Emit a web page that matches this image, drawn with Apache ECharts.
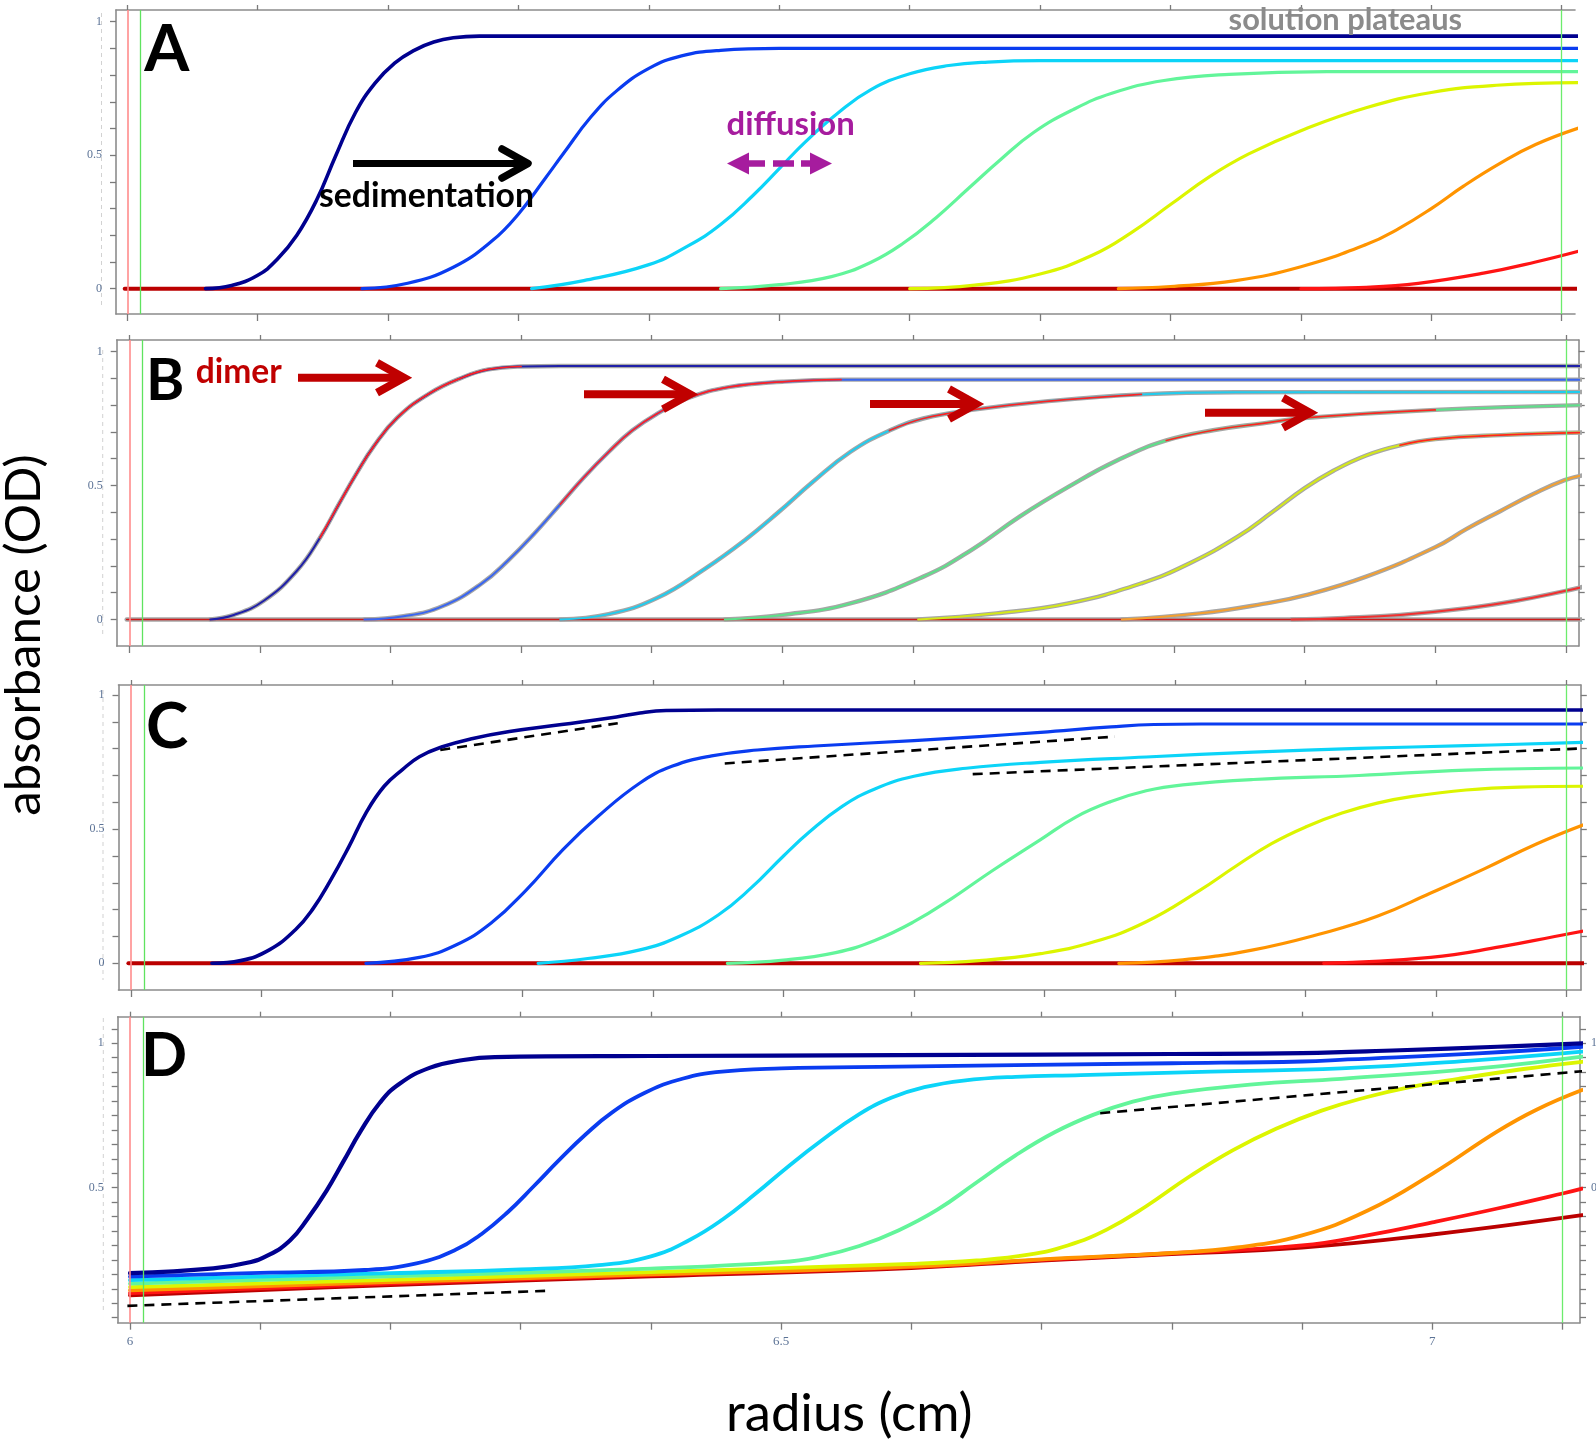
<!DOCTYPE html>
<html><head><meta charset="utf-8">
<script src="https://cdn.jsdelivr.net/npm/echarts@6/dist/echarts.min.js"></script>
<style>html,body{margin:0;padding:0;background:#fff}#c{width:1596px;height:1440px}</style>
</head><body><div id="c"></div>
<script>
// ---------- tick values ----------
const XT = [6.0,6.1,6.2,6.3,6.4,6.5,6.6,6.7,6.8,6.9,7.0,7.1];
const XL = [6, 6.5, 7];
const YT = [0,0.1,0.2,0.3,0.4,0.5,0.6,0.7,0.8,0.9,1.0];
const YTD = [0.05,0.1,0.15,0.2,0.25,0.3,0.35,0.4,0.45,0.5,0.55,0.6,0.65,0.7,0.75,0.8,0.85,0.9,0.95,1.0,1.05];
const YL = [0, 0.5, 1];
const YLD = [0.5, 1];
const VLINES = [6.0, 6.0092, 7.101];

// ---------- panel A ----------
const A_navy = [[6.06,0],[6.08,0.012],[6.10,0.05],[6.115,0.11],[6.13,0.2],[6.145,0.33],[6.16,0.5],[6.175,0.66],[6.19,0.77],[6.205,0.845],[6.22,0.893],[6.235,0.924],[6.25,0.94],[6.27,0.946],[7.115,0.946]];
const A_blue = [[6.18,0],[6.215,0.02],[6.25,0.08],[6.28,0.18],[6.30,0.28],[6.32,0.41],[6.335,0.51],[6.355,0.64],[6.375,0.74],[6.40,0.825],[6.425,0.872],[6.455,0.893],[6.50,0.9],[7.115,0.9]];
const A_cyan = [[6.31,0],[6.35,0.03],[6.40,0.09],[6.43,0.16],[6.455,0.24],[6.48,0.35],[6.50,0.45],[6.52,0.55],[6.545,0.658],[6.57,0.745],[6.60,0.805],[6.63,0.836],[6.66,0.849],[6.70,0.854],[7.115,0.854]];
const A_green = [[6.455,0],[6.50,0.015],[6.54,0.045],[6.57,0.098],[6.595,0.17],[6.62,0.265],[6.645,0.375],[6.67,0.485],[6.695,0.585],[6.725,0.67],[6.755,0.732],[6.795,0.78],[6.845,0.803],[6.92,0.813],[7.115,0.813]];
const A_yellow = [[6.60,0],[6.65,0.013],[6.70,0.055],[6.74,0.125],[6.77,0.21],[6.80,0.315],[6.83,0.42],[6.86,0.505],[6.90,0.592],[6.95,0.678],[7.0,0.735],[7.05,0.762],[7.115,0.772]];
const A_orange = [[6.76,0],[6.80,0.008],[6.85,0.03],[6.90,0.082],[6.95,0.165],[6.975,0.225],[7.0,0.30],[7.025,0.385],[7.053,0.47],[7.08,0.54],[7.115,0.605]];
const A_red = [[6.90,0],[6.95,0.005],[6.99,0.02],[7.04,0.058],[7.08,0.1],[7.115,0.143]];
const A_darkred = [[5.998,0],[7.115,0]];

// ---------- panel B ----------
const B_navy = [[6.062,0],[6.08,0.017],[6.103,0.07],[6.128,0.18],[6.146,0.305],[6.161,0.435],[6.174,0.545],[6.187,0.645],[6.205,0.752],[6.23,0.844],[6.256,0.905],[6.275,0.933],[6.30,0.944],[6.33,0.946],[7.115,0.946]];
const B_blue = [[6.18,0],[6.21,0.012],[6.24,0.05],[6.27,0.135],[6.29,0.22],[6.31,0.32],[6.33,0.43],[6.348,0.53],[6.367,0.625],[6.385,0.705],[6.405,0.77],[6.427,0.825],[6.46,0.868],[6.50,0.887],[6.545,0.895],[7.115,0.895]];
const B_cyan = [[6.33,0],[6.367,0.02],[6.404,0.08],[6.441,0.19],[6.471,0.295],[6.497,0.40],[6.523,0.512],[6.552,0.625],[6.582,0.705],[6.608,0.75],[6.645,0.782],[6.70,0.813],[6.775,0.84],[6.85,0.848],[7.115,0.849]];
const B_green = [[6.456,0],[6.50,0.017],[6.552,0.06],[6.608,0.16],[6.645,0.26],[6.682,0.385],[6.719,0.495],[6.757,0.595],[6.794,0.668],[6.831,0.707],[6.868,0.732],[6.90,0.752],[7.0,0.782],[7.115,0.80]];
const B_yellow = [[6.604,0],[6.664,0.023],[6.719,0.06],[6.775,0.135],[6.812,0.21],[6.849,0.31],[6.875,0.40],[6.90,0.49],[6.922,0.555],[6.947,0.612],[6.973,0.65],[7.0,0.673],[7.05,0.688],[7.115,0.698]];
const B_orange = [[6.76,0],[6.82,0.023],[6.868,0.058],[6.90,0.09],[6.947,0.16],[7.0,0.27],[7.024,0.338],[7.05,0.405],[7.075,0.468],[7.099,0.52],[7.115,0.54]];
const B_red = [[6.89,0],[6.93,0.006],[6.973,0.017],[7.024,0.042],[7.062,0.07],[7.099,0.106],[7.115,0.124]];
const B_darkred = [[5.998,0],[7.115,0]];
const B_dimerRanges = [[6.135,6.31],[6.33,6.55],[6.56,6.80],[6.78,7.06],[6.97,7.115]];

// ---------- panel C ----------
const C_navy = [[6.062,0],[6.084,0.01],[6.106,0.05],[6.126,0.125],[6.139,0.2],[6.153,0.31],[6.167,0.435],[6.18,0.56],[6.194,0.66],[6.208,0.722],[6.221,0.77],[6.238,0.806],[6.262,0.838],[6.29,0.864],[6.33,0.89],[6.372,0.918],[6.39,0.933],[6.41,0.942],[6.45,0.944],[7.115,0.944]];
const C_blue = [[6.18,0],[6.221,0.022],[6.249,0.068],[6.276,0.15],[6.303,0.274],[6.331,0.424],[6.358,0.548],[6.39,0.672],[6.415,0.735],[6.445,0.773],[6.48,0.795],[6.524,0.81],[6.60,0.83],[6.65,0.845],[6.697,0.861],[6.751,0.881],[6.784,0.89],[6.82,0.892],[7.115,0.892]];
const C_cyan = [[6.312,0],[6.35,0.018],[6.39,0.05],[6.42,0.1],[6.45,0.18],[6.475,0.28],[6.50,0.40],[6.52,0.49],[6.545,0.585],[6.57,0.65],[6.60,0.697],[6.64,0.727],[6.697,0.749],[6.778,0.769],[6.86,0.787],[6.941,0.801],[7.023,0.811],[7.115,0.824]];
const C_green = [[6.457,0],[6.50,0.012],[6.54,0.04],[6.57,0.085],[6.60,0.155],[6.63,0.245],[6.66,0.345],[6.697,0.461],[6.724,0.545],[6.751,0.603],[6.778,0.643],[6.806,0.665],[6.86,0.685],[6.941,0.70],[7.023,0.72],[7.115,0.728]];
const C_yellow = [[6.605,0],[6.65,0.01],[6.697,0.036],[6.738,0.08],[6.778,0.155],[6.819,0.272],[6.846,0.36],[6.874,0.446],[6.901,0.51],[6.928,0.56],[6.955,0.597],[6.982,0.622],[7.023,0.646],[7.064,0.657],[7.115,0.66]];
const C_orange = [[6.757,0],[6.806,0.013],[6.86,0.05],[6.914,0.113],[6.955,0.175],[6.996,0.262],[7.037,0.352],[7.077,0.445],[7.115,0.52]];
const C_red = [[6.914,0],[6.996,0.022],[7.05,0.062],[7.091,0.1],[7.115,0.122]];
const C_darkred = [[5.998,0],[7.115,0]];
const C_fit1 = [[6.237,0.795],[6.373,0.895]];
const C_fit2 = [[6.455,0.745],[6.754,0.845]];
const C_fit3 = [[6.645,0.705],[7.108,0.80]];

// ---------- panel D ----------
const D_navy = [[6.0,0.204],[6.064,0.221],[6.09,0.24],[6.107,0.268],[6.123,0.318],[6.136,0.39],[6.151,0.49],[6.164,0.592],[6.177,0.695],[6.192,0.795],[6.207,0.86],[6.23,0.915],[6.256,0.942],[6.28,0.952],[6.40,0.956],[6.59,0.959],[6.80,0.963],[6.90,0.966],[6.975,0.976],[7.05,0.988],[7.115,1.0]];
const D_blue = [[6.0,0.192],[6.1,0.205],[6.18,0.215],[6.22,0.238],[6.25,0.285],[6.27,0.34],[6.29,0.415],[6.31,0.505],[6.33,0.598],[6.35,0.685],[6.37,0.76],[6.395,0.828],[6.42,0.872],[6.45,0.9],[6.50,0.913],[6.59,0.919],[6.80,0.931],[6.90,0.937],[6.935,0.944],[7.035,0.965],[7.115,0.988]];
const D_cyan = [[6.0,0.18],[6.1,0.192],[6.2,0.204],[6.3,0.217],[6.36,0.232],[6.40,0.262],[6.43,0.32],[6.455,0.39],[6.48,0.478],[6.505,0.572],[6.53,0.66],[6.56,0.755],[6.585,0.812],[6.61,0.848],[6.64,0.871],[6.68,0.884],[6.73,0.89],[6.83,0.902],[6.93,0.913],[7.035,0.942],[7.115,0.971]];
const D_green = [[6.0,0.168],[6.2,0.193],[6.4,0.22],[6.5,0.242],[6.53,0.262],[6.56,0.298],[6.59,0.352],[6.62,0.424],[6.65,0.518],[6.68,0.612],[6.71,0.692],[6.74,0.753],[6.77,0.798],[6.80,0.826],[6.86,0.857],[6.93,0.877],[7.035,0.913],[7.115,0.954]];
const D_yellow = [[6.0,0.156],[6.2,0.181],[6.4,0.208],[6.6,0.236],[6.65,0.248],[6.69,0.268],[6.72,0.30],[6.75,0.355],[6.78,0.435],[6.813,0.537],[6.847,0.63],[6.88,0.704],[6.915,0.767],[6.95,0.814],[6.98,0.846],[7.02,0.877],[7.07,0.911],[7.115,0.936]];
const D_orange = [[6.0,0.145],[6.2,0.173],[6.4,0.2],[6.6,0.227],[6.7,0.252],[6.8,0.274],[6.85,0.293],[6.90,0.335],[6.95,0.42],[7.0,0.548],[7.05,0.695],[7.08,0.77],[7.115,0.838]];
const D_red = [[6.0,0.135],[6.2,0.168],[6.4,0.197],[6.6,0.225],[6.7,0.25],[6.8,0.273],[6.9,0.3],[6.95,0.335],[7.0,0.38],[7.05,0.428],[7.1,0.48],[7.115,0.497]];
const D_darkred = [[6.0,0.127],[6.2,0.163],[6.4,0.193],[6.6,0.222],[6.7,0.248],[6.8,0.27],[6.9,0.293],[7.0,0.338],[7.115,0.405]];
const D_fit1 = [[6.745,0.758],[7.122,0.906]];
const D_fit2 = [[5.998,0.091],[6.32,0.143]];

// ---------- styling ----------
const COLORS = ['#00008f','#0a3cf0','#0cd4f8','#62f59a','#dcf500','#ff9400','#ff1414','#bb0000'];
const BCOLORS = ['#2020a8','#3a66f0','#20ccee','#5ee08a','#d4e81a','#f4a030','#f03030','#d01818'];
const AXC = '#8c8c8c', LBC = '#5c7396';

const panels = [
  {left:116, top:10, width:1459, height:304, xmin:5.99133, xmax:7.1102, ymin:-0.095, ymax:1.044, right:false, yt:YT, yl:YL, xl:false, rl:false},
  {left:116.7, top:340, width:1462, height:306, xmin:5.99035, xmax:7.1098, ymin:-0.0989, ymax:1.0429, right:true, yt:YT, yl:YL, xl:false, rl:false},
  {left:118.5, top:685, width:1462.3, height:305, xmin:5.99042, xmax:7.1110, ymin:-0.0995, ymax:1.0373, right:true, yt:YT, yl:YL, xl:false, rl:false},
  {left:117.7, top:1016.7, width:1462.3, height:306, xmin:5.99056, xmax:7.11341, ymin:0.0326, ymax:1.0921, right:true, yt:YTD, yl:YLD, xl:true, rl:true}
];

const grid=[], xAxis=[], yAxis=[], series=[];
const idx = [];
panels.forEach((p,i)=>{
  grid.push({left:p.left, top:p.top, width:p.width, height:p.height, containLabel:false, outerBoundsMode:'none'});
  const axLine = {show:true, onZero:false, lineStyle:{color:AXC, width:1.6}};
  const tick = (vals,len)=>({show:true, customValues:vals, length:len, lineStyle:{color:'#7a7a7a', width:1.3}});
  const xi = xAxis.length;
  xAxis.push({type:'value', gridIndex:i, position:'bottom', min:p.xmin, max:p.xmax, axisLine:axLine, axisTick:tick(XT,7), splitLine:{show:false},
    axisLabel: p.xl ? {show:true, customValues:XL, color:LBC, fontFamily:'Liberation Serif', fontSize:13, margin:12} : {show:false}});
  xAxis.push({type:'value', gridIndex:i, position:'top', min:p.xmin, max:p.xmax, axisLine:axLine, axisTick:tick(XT,5), splitLine:{show:false}, axisLabel:{show:false}});
  const yi = yAxis.length;
  yAxis.push({type:'value', gridIndex:i, position:'left', min:p.ymin, max:p.ymax, axisLine:axLine, axisTick:tick(p.yt,6), splitLine:{show:false},
    axisLabel:{show:true, customValues:p.yl, color:LBC, fontFamily:'Liberation Serif', fontSize:12, margin:14}});
  if (p.right) yAxis.push({type:'value', gridIndex:i, position:'right', min:p.ymin, max:p.ymax, axisLine:axLine, axisTick:tick(p.yt,6), splitLine:{show:false},
    axisLabel: p.rl ? {show:true, customValues:YLD, color:LBC, fontFamily:'Liberation Serif', fontSize:12, margin:11} : {show:false}});
  idx.push([xi, yi]);
});

function line(data, pi, color, width, z, extra) {
  return Object.assign({type:'line', xAxisIndex:idx[pi][0], yAxisIndex:idx[pi][1], data:data, symbol:'none', showSymbol:false,
    smooth:0.45, silent:true, animation:false, z:z, lineStyle:{color:color, width:width, cap:'round', join:'round'}}, extra||{});
}
function vmark() {
  return {silent:true, symbol:['none','none'], label:{show:false}, animation:false,
    data:[{xAxis:VLINES[0], lineStyle:{color:'#ff8c8c', width:1.6, type:'solid'}},
          {xAxis:VLINES[1], lineStyle:{color:'#5fe35f', width:1.3, type:'solid'}},
          {xAxis:VLINES[2], lineStyle:{color:'#6cec6c', width:1.3, type:'solid'}}]};
}
function dashed(data, pi, extra) {
  return line(data, pi, '#000', 2.6, 20, Object.assign({smooth:false, lineStyle:{color:'#000', width:2.6, type:[10,7]}}, extra||{}));
}

function addPanel(curves, pi, widths) {
  for (let k = curves.length-1; k >= 0; k--) {
    const s = line(curves[k], pi, COLORS[k], widths[k], 2);
    if (k === 7) s.markLine = vmark();
    series.push(s);
  }
}
addPanel([A_navy,A_blue,A_cyan,A_green,A_yellow,A_orange,A_red,A_darkred], 0, [3.6,3.2,3.2,3.2,3.2,3.2,3.2,4]);
const Bc = [B_navy,B_blue,B_cyan,B_green,B_yellow,B_orange,B_red,B_darkred];
for (let k = 7; k >= 0; k--) series.push(line(Bc[k], 1, '#a6a6a6', 4.4, 1));
for (let k = 7; k >= 0; k--) {
  const s = line(Bc[k], 1, BCOLORS[k], k===7?1.6:2, 2);
  if (k === 7) s.markLine = vmark();
  series.push(s);
}
B_dimerRanges.forEach((r,k)=>{
  series.push(line(Bc[k].filter(pt=>pt[0]>=r[0] && pt[0]<=r[1]), 1, '#ff2222', 1.7, 3));
});
addPanel([C_navy,C_blue,C_cyan,C_green,C_yellow,C_orange,C_red,C_darkred], 2, [3.6,3.2,3.2,3.2,3.2,3.2,3.2,4]);
series.push(dashed(C_fit1,2), dashed(C_fit2,2), dashed(C_fit3,2));
addPanel([D_navy,D_blue,D_cyan,D_green,D_yellow,D_orange,D_red,D_darkred], 3, [4.2,3.8,3.8,3.8,3.8,3.8,3.8,3.8]);
series.push(dashed(D_fit1,3,{clip:false}), dashed(D_fit2,3));

// ---------- annotations ----------
const mc = document.createElement('canvas').getContext('2d');
function meas(text, font){ mc.font = font; mc.textBaseline = 'middle'; mc.textAlign='left'; return mc.measureText(text); }
function fitW(text, weight, fam, w){ const m = meas(text, weight+' 100px '+fam); return 100*w/(m.actualBoundingBoxLeft+m.actualBoundingBoxRight); }
function txt(text, weight, fam, size, inkLeft, baseline, color){
  const font = weight+' '+size.toFixed(2)+'px '+fam;
  const m = meas(text, font), mx = meas('x', font);
  return {type:'text', z:100, x:inkLeft + m.actualBoundingBoxLeft, y:baseline - mx.actualBoundingBoxDescent,
    style:{text:text, font:font, fill:color, textAlign:'left', textVerticalAlign:'middle', verticalAlign:'middle'}};
}
function letter(ch, inkLeft, capTop, capBottom){
  const m0 = meas('H', '700 100px Lato');
  const size = 100*(capBottom-capTop)/(m0.actualBoundingBoxAscent+m0.actualBoundingBoxDescent);
  const font = '700 '+size.toFixed(2)+'px Lato';
  const m = meas(ch, font), mh = meas('H', font);
  return {type:'text', z:100, x:inkLeft + m.actualBoundingBoxLeft, y:capBottom - mh.actualBoundingBoxDescent,
    style:{text:ch, font:font, fill:'#000', textAlign:'left', textVerticalAlign:'middle', verticalAlign:'middle'}};
}
const FAM = 'Lato';
const g = [];
g.push(letter('A',143.3,23.3,70.7), letter('B',150,357,399.5), letter('C',148,701.7,748.3), letter('D',145,1031.7,1076));
g.push(txt('solution plateaus','700',FAM,fitW('solution plateaus','700',FAM,232),1228.6,29.5,'#8b8b8b'));
g.push(txt('sedimentation','700',FAM,fitW('sedimentation','700',FAM,212.5),319,206.5,'#000'));
g.push(txt('diffusion','700',FAM,fitW('diffusion','700',FAM,125.5),727.5,135,'#a61c9e'));
g.push(txt('dimer','700',FAM,fitW('dimer','700',FAM,85),196.7,383.3,'#c00000'));
g.push(txt('radius (cm)','400',FAM,fitW('radius (cm)','400',FAM,241),729,1431,'#000'));
(function(){
  const size = fitW('absorbance (OD)','400',FAM,358);
  const font = '400 '+size.toFixed(2)+'px '+FAM;
  const d = meas('x', font).actualBoundingBoxDescent;
  g.push({type:'text', z:100, x:39.5 - d, y:635, rotation:Math.PI/2,
    style:{text:'absorbance (OD)', font:font, fill:'#000', textAlign:'center', textVerticalAlign:'middle', verticalAlign:'middle'}});
})();
g.push({type:'line', z:100, shape:{x1:353,y1:163.5,x2:524,y2:163.5}, style:{stroke:'#000', lineWidth:7}});
g.push({type:'polyline', z:100, shape:{points:[[502,149],[528,163.5],[502,178]]}, style:{stroke:'#000', lineWidth:7.5, lineJoin:'round', lineCap:'round', fill:null}});
const MG = '#a61c9e';
g.push({type:'polygon', z:100, shape:{points:[[727,163.5],[749,152.5],[749,174.5]]}, style:{fill:MG}});
g.push({type:'polygon', z:100, shape:{points:[[832,163.5],[810,152.5],[810,174.5]]}, style:{fill:MG}});
[[745,765],[773,794],[801,814]].forEach(s=>g.push({type:'line', z:100, shape:{x1:s[0],y1:163.5,x2:s[1],y2:163.5}, style:{stroke:MG, lineWidth:6.5}}));
[[298,405,377.7],[584,691,394.3],[870,977,404],[1205,1311,412.7]].forEach(a=>{
  g.push({type:'line', z:100, shape:{x1:a[0],y1:a[2],x2:a[1]-6,y2:a[2]}, style:{stroke:'#c00000', lineWidth:8}});
  g.push({type:'polyline', z:100, shape:{points:[[a[1]-28,a[2]-15],[a[1]-1,a[2]],[a[1]-28,a[2]+15]]}, style:{stroke:'#c00000', lineWidth:8, lineJoin:'miter', fill:null}});
});
[[101.5,13,305],[102.7,350,637],[103,690,980],[103.3,1018,1313]].forEach(l=>{
  g.push({type:'line', z:0, shape:{x1:l[0],y1:l[1],x2:l[0],y2:l[2]}, style:{stroke:'#d2d2d2', lineWidth:1, lineDash:[4,4]}});
});

const chart = echarts.init(document.getElementById('c'), null, {renderer:'canvas', width:1596, height:1440});
chart.setOption({animation:false, backgroundColor:'#fff', grid, xAxis, yAxis, series, graphic:g});
</script>
</body></html>
